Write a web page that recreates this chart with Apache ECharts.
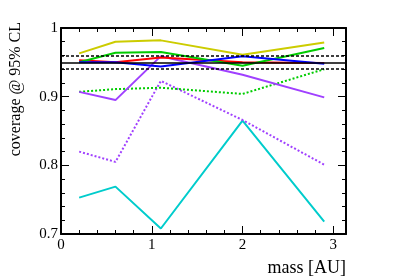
<!DOCTYPE html>
<html><head><meta charset="utf-8">
<script src="https://cdn.jsdelivr.net/npm/echarts@6/dist/echarts.min.js"></script>
<style>html,body{margin:0;padding:0;background:#fff}#c{width:407px;height:277px}</style>
</head><body><div id="c"></div>
<script>
const massPoints = [0.2, 0.6, 1.1, 2.0, 2.9];
const yellowSolid = [0.963, 0.980, 0.982, 0.961, 0.979];
const greenSolid  = [0.950, 0.964, 0.965, 0.945, 0.971];
const redSolid    = [0.953, 0.950, 0.957, 0.950, 0.949];
const blueSolid   = [0.950, 0.950, 0.944, 0.959, 0.948];
const violetSolid = [0.907, 0.895, 0.959, 0.932, 0.899];
const greenDotted = [0.907, 0.911, 0.913, 0.904, 0.940];
const violetDotted= [0.820, 0.805, 0.923, 0.866, 0.801];
const cyanSolid   = [0.753, 0.769, 0.708, 0.865, 0.718];
const refLevels   = [0.94, 0.95, 0.96];
const xTicks = [0, 1, 2, 3];
const yTicks = [0.7, 0.8, 0.9, 1];

const FONT = '"Liberation Serif", "DejaVu Serif", serif';
function pts(ys){ return massPoints.map((x,i)=>[x, ys[i]]); }
function line(name, ys, color, dotted){
  return {name, type:'line', data:pts(ys), showSymbol:false, symbol:'none', animation:false,
    lineStyle:{color, width:2, type: dotted ? [2,2] : 'solid'}, z:3};
}
const chart = echarts.init(document.getElementById('c'), null, {renderer:'canvas'});
const axisCommon = {
  axisLine:{show:true, onZero:false, lineStyle:{color:'#000', width:2}},
  axisTick:{show:true, inside:true, length:8, lineStyle:{color:'#000', width:1}},
  minorTick:{show:true, splitNumber:5, length:4, lineStyle:{color:'#000', width:1}},
  splitLine:{show:false}
};
chart.setOption({
  animation:false,
  grid:{left:61, right:61, top:28, bottom:43, containLabel:false},
  xAxis:[
    Object.assign({type:'value', min:xTicks[0], max:3.14, interval:1, position:'bottom',
      axisLabel:{show:true, color:'#000', fontFamily:FONT, fontSize:15, margin:4, showMaxLabel:false}}, axisCommon),
    Object.assign({type:'value', min:xTicks[0], max:3.14, interval:1, position:'top',
      axisLabel:{show:false}}, axisCommon)
  ],
  yAxis:[
    Object.assign({type:'value', min:yTicks[0], max:yTicks[yTicks.length-1], interval:0.1, position:'left',
      axisLabel:{show:true, color:'#000', fontFamily:FONT, fontSize:15, margin:3,
        formatter:v=>String(Math.round(v*10)/10)}}, axisCommon),
    Object.assign({type:'value', min:yTicks[0], max:yTicks[yTicks.length-1], interval:0.1, position:'right',
      axisLabel:{show:false}}, axisCommon)
  ],
  series:[
    {type:'line', data:[], silent:true, animation:false,
      markLine:{symbol:'none', silent:true, label:{show:false}, animation:false,
        data:[
          {yAxis:refLevels[0], lineStyle:{color:'#000', width:1.5, type:[3,2]}},
          {yAxis:refLevels[1], lineStyle:{color:'#000', width:1.5, type:'solid'}},
          {yAxis:refLevels[2], lineStyle:{color:'#000', width:1.5, type:[3,2]}}
        ]}},
    line('cyan', cyanSolid, '#00cccc', false),
    line('violet dotted', violetDotted, '#a040ff', true),
    line('green dotted', greenDotted, '#00cc00', true),
    line('violet', violetSolid, '#a040ff', false),
    line('yellow', yellowSolid, '#cccc00', false),
    line('red', redSolid, '#ff0000', false),
    line('green', greenSolid, '#00cc00', false),
    line('blue', blueSolid, '#0000ff', false)
  ],
  graphic:[
    {type:'text', x:346, y:268, style:{text:'mass [AU]', fontFamily:FONT, fontSize:18, fill:'#000',
      textAlign:'right', textVerticalAlign:'middle'}},
    {type:'text', x:16, y:22, rotation:Math.PI/2, style:{text:'coverage @ 95% CL', fontFamily:FONT, fontSize:16, fill:'#000',
      textAlign:'right', textVerticalAlign:'middle'}}
  ]
});
</script></body></html>
